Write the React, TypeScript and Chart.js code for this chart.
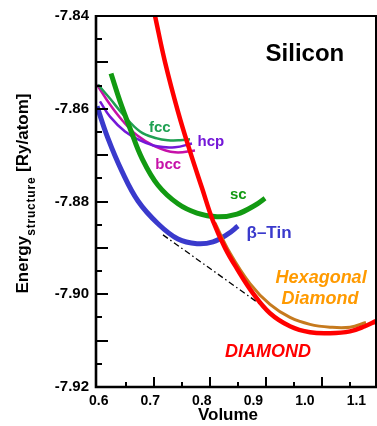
import React, { useEffect, useRef } from "react";
import { Chart, registerables } from "chart.js";
Chart.register(...registerables);

// ---- data (Volume, Energy [Ry/atom]) ----
const diamondV = [0.7024, 0.7202, 0.7434, 0.7649, 0.7863, 0.8059, 0.8274, 0.8488, 0.8774, 0.9077, 0.9434, 0.9791, 1.0149, 1.0506, 1.0774, 1.097];
const diamondE = [-7.8400, -7.8499, -7.8606, -7.8692, -7.8771, -7.8842, -7.8900, -7.8945, -7.8998, -7.9041, -7.9069, -7.9082, -7.9084, -7.9080, -7.9069, -7.9058];

const hexV = [0.8095, 0.8363, 0.872, 0.9077, 0.9434, 0.9791, 1.0149, 1.0506, 1.0791];
const hexE = [-7.8846, -7.8911, -7.8977, -7.9022, -7.9050, -7.9065, -7.9071, -7.9071, -7.9061];

const scV = [0.6238, 0.6399, 0.6577, 0.6791, 0.7077, 0.7434, 0.7774, 0.8131, 0.8488, 0.881, 0.8988];
const scE = [-7.8524, -7.8584, -7.8642, -7.8707, -7.8765, -7.8805, -7.8825, -7.8833, -7.8827, -7.8808, -7.8793];

const tinV = [0.5988, 0.6184, 0.6434, 0.672, 0.7077, 0.7434, 0.7774, 0.8059, 0.8327, 0.8506];
const tinE = [-7.8595, -7.8664, -7.8735, -7.8799, -7.8848, -7.8881, -7.8891, -7.8887, -7.8870, -7.8853];

const fccV = [0.6006, 0.622, 0.6452, 0.6756, 0.7059, 0.7256, 0.747, 0.7649];
const fccE = [-7.8548, -7.8578, -7.8612, -7.8649, -7.8664, -7.8668, -7.8668, -7.8666];

const hcpV = [0.6041, 0.622, 0.6488, 0.6756, 0.7059, 0.7381, 0.7684];
const hcpE = [-7.8584, -7.8617, -7.8649, -7.8668, -7.8681, -7.8683, -7.8675];

const bccV = [0.5988, 0.622, 0.6452, 0.6702, 0.7024, 0.7381, 0.7738];
const bccE = [-7.8548, -7.8591, -7.8627, -7.8657, -7.8681, -7.8694, -7.8690];

const tangentV = [0.7166, 0.8952];
const tangentE = [-7.8872, -7.9026];

const xTickLabels = [0.6, 0.7, 0.8, 0.9, 1.0, 1.1];
const yTickLabels = [-7.92, -7.90, -7.88, -7.86, -7.84];

const labelText = ["Silicon", "fcc", "hcp", "bcc", "sc", "\u03b2\u2013Tin", "Hexagonal", "Diamond", "DIAMOND"];
const labelV = [0.970, 0.711, 0.802, 0.726, 0.851, 0.906, 0.999, 0.997, 0.904];
const labelE = [-7.8482, -7.8642, -7.8672, -7.8722, -7.8786, -7.8868, -7.8964, -7.9011, -7.9125];

const FONT = '"Liberation Sans", Arial, Helvetica, sans-serif';
const labelStyle = [
  { font: `bold 24px ${FONT}`, color: "#000000" },
  { font: `bold 15px ${FONT}`, color: "#1fa052" },
  { font: `bold 15px ${FONT}`, color: "#7418d8" },
  { font: `bold 15px ${FONT}`, color: "#c611a8" },
  { font: `bold 15px ${FONT}`, color: "#129a12" },
  { font: `bold 17px ${FONT}`, color: "#3a3acc" },
  { font: `italic bold 18px ${FONT}`, color: "#ff9a00" },
  { font: `italic bold 18px ${FONT}`, color: "#ff9a00" },
  { font: `italic bold 18px ${FONT}`, color: "#ff0000" },
];

const pts = (xs: number[], ys: number[]) => xs.map((x, i) => ({ x, y: ys[i] }));

const X_MIN = 0.597, X_MAX = 1.097;
const Y_MIN = -7.92, Y_MAX = -7.84;

const overlay = {
  id: "overlay",
  afterDatasetsDraw(chart: any) {
    const { ctx, chartArea: a, scales } = chart;
    const xs = scales.x, ys = scales.y;
    ctx.save();
    ctx.strokeStyle = "#000";
    // box
    ctx.lineWidth = 2;
    ctx.beginPath();
    ctx.moveTo(a.left, a.top);
    ctx.lineTo(a.right, a.top);
    ctx.lineTo(a.right, a.bottom);
    ctx.stroke();
    ctx.lineWidth = 2.6;
    ctx.beginPath();
    ctx.moveTo(a.left, a.top - 1);
    ctx.lineTo(a.left, a.bottom);
    ctx.lineTo(a.right + 1, a.bottom);
    ctx.stroke();
    // inward ticks
    ctx.lineWidth = 2;
    for (let k = 0; k <= 16; k++) {
      const v = Y_MIN + k * 0.005;
      const py = Math.round(ys.getPixelForValue(v));
      const len = k % 2 === 0 ? 12 : 6;
      ctx.beginPath();
      ctx.moveTo(a.left, py);
      ctx.lineTo(a.left + len, py);
      ctx.stroke();
    }
    for (let k = 1; k <= 10; k++) {
      const v = 0.6 + k * 0.05;
      const px = Math.round(xs.getPixelForValue(v));
      if (px > a.right) continue;
      const len = k % 2 === 0 ? 10 : 5;
      ctx.beginPath();
      ctx.moveTo(px, a.bottom);
      ctx.lineTo(px, a.bottom - len);
      ctx.stroke();
    }
    // in-plot labels
    ctx.textAlign = "center";
    ctx.textBaseline = "middle";
    labelText.forEach((t, i) => {
      ctx.font = labelStyle[i].font;
      ctx.fillStyle = labelStyle[i].color;
      ctx.fillText(t, xs.getPixelForValue(labelV[i]), ys.getPixelForValue(labelE[i]));
    });
    // x title
    ctx.font = `bold 17px ${FONT}`;
    ctx.fillStyle = "#000";
    ctx.fillText("Volume", (a.left + a.right) / 2 - 8, a.bottom + 28);
    // y title with subscript
    ctx.translate(a.left - 68, (a.top + a.bottom) / 2 - 8);
    ctx.rotate(-Math.PI / 2);
    ctx.textAlign = "left";
    ctx.textBaseline = "alphabetic";
    const big = `bold 17px ${FONT}`;
    const small = `bold 12px ${FONT}`;
    ctx.font = big;
    const w1 = ctx.measureText("Energy").width;
    const w3 = ctx.measureText(" [Ry/atom]").width;
    ctx.font = small;
    (ctx as any).letterSpacing = "0.8px";
    const w2 = ctx.measureText("structure").width;
    (ctx as any).letterSpacing = "0px";
    let cx = -(w1 + w2 + w3) / 2;
    ctx.font = big;
    ctx.fillText("Energy", cx, 0);
    cx += w1;
    ctx.font = small;
    (ctx as any).letterSpacing = "0.8px";
    ctx.fillText("structure", cx, 7);
    (ctx as any).letterSpacing = "0px";
    cx += w2;
    ctx.font = big;
    ctx.fillText(" [Ry/atom]", cx, 0);
    ctx.restore();
  },
};

export default function App() {
  const ref = useRef<HTMLCanvasElement | null>(null);
  useEffect(() => {
    document.body.style.margin = "0";
    const canvas = ref.current;
    if (!canvas) return;
    const line = (data: any, color: string, width: number, extra: any = {}) => ({
      data,
      borderColor: color,
      backgroundColor: color,
      borderWidth: width,
      pointRadius: 0,
      tension: 0.4,
      fill: false,
      ...extra,
    });
    const chart = new Chart(canvas, {
      type: "line",
      data: {
        datasets: [
          line(pts(diamondV, diamondE), "#ff0000", 4.5),
          line(pts(hexV, hexE), "#c67a1e", 3),
          line(pts(tangentV, tangentE), "#000000", 1.3, { tension: 0, borderDash: [6, 3, 1.5, 3] }),
          line(pts(scV, scE), "#129a12", 5),
          line(pts(tinV, tinE), "#3a3acc", 5),
          line(pts(fccV, fccE), "#1fa052", 2.5),
          line(pts(hcpV, hcpE), "#7418d8", 2.5),
          line(pts(bccV, bccE), "#c611a8", 2.5),
        ],
      },
      options: {
        responsive: false,
        animation: false,
        events: [],
        layout: { padding: { top: 14, right: 1, left: 0, bottom: 0 } },
        plugins: { legend: { display: false }, tooltip: { enabled: false } },
        scales: {
          x: {
            type: "linear",
            position: "bottom",
            min: X_MIN,
            max: X_MAX,
            grid: { display: false, drawTicks: false },
            border: { display: false },
            ticks: { display: false },
            afterFit: (s: any) => { s.height = 0; },
          },
          xl: {
            type: "linear",
            position: "bottom",
            min: 0.5946,
            max: 1.138,
            grid: { display: false, drawTicks: false },
            border: { display: false },
            afterBuildTicks: (s: any) => { s.ticks = xTickLabels.map((v) => ({ value: v })); },
            ticks: {
              padding: 6,
              color: "#000",
              maxRotation: 0,
              autoSkip: false,
              font: { family: FONT, size: 14, weight: "bold" },
              callback: (v: any) => Number(v).toFixed(1),
            },
            afterFit: (s: any) => { s.height = 39; },
          },
          y: {
            type: "linear",
            min: Y_MIN,
            max: Y_MAX,
            grid: { display: false, drawTicks: false },
            border: { display: false },
            afterBuildTicks: (s: any) => { s.ticks = yTickLabels.map((v) => ({ value: v })); },
            ticks: {
              padding: 7,
              color: "#000",
              font: { family: FONT, size: 15, weight: "bold" },
              callback: (v: any) => Number(v).toFixed(2),
            },
            afterFit: (s: any) => { s.width = 96; },
          },
        },
      } as any,
      plugins: [overlay],
    });
    return () => chart.destroy();
  }, []);
  return <canvas ref={ref} width={377} height={426} style={{ display: "block" }} />;
}
